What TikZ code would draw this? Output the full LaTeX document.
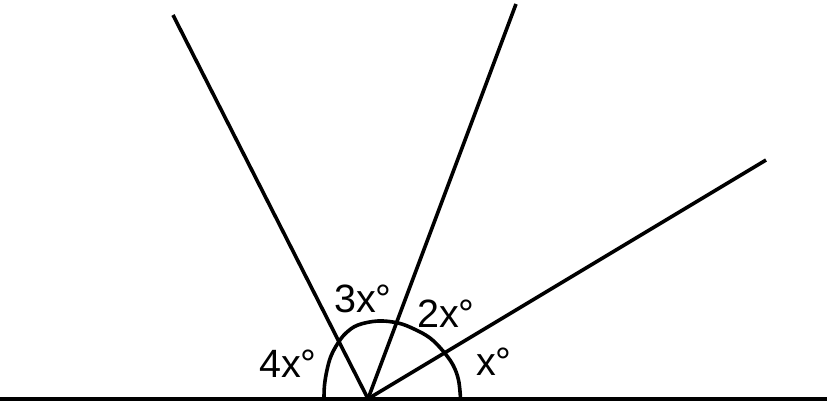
\documentclass[tikz,border=0pt]{standalone}
\usepackage{fontspec}
\setmainfont{Liberation Sans}
\begin{document}
\begin{tikzpicture}[x=1pt,y=-1pt,
  ray/.style={line width=3.6pt,black},
  base/.style={line width=4.6pt,black},
  anglearc/.style={line width=3.6pt,black},
  lbl/.style={anchor=base west,inner sep=0pt,font=\fontsize{39.5}{42}\selectfont}]
\useasboundingbox (0,0) rectangle (827,412);
\coordinate (O) at (368,398.8);
\coordinate (L) at (0,398.8);
\coordinate (R) at (827,398.8);
\coordinate (A) at (173,15);
\coordinate (B) at (516,4);
\coordinate (C) at (766,160);
\draw[base] (L) -- (R);
\draw[ray] (O) -- (A);
\draw[ray] (O) -- (B);
\draw[ray] (O) -- (C);
\draw[anglearc] plot[smooth,tension=0.6] coordinates {(324,398) (324.5,385) (327,370) (331,356) (338,343) (346,333) (358,325) (378,321) (398,323) (414,329) (430,338) (443,351) (453,365) (458.5,380) (460.5,398)};
\node[lbl] (l3) at (334,312) {3x°};
\node[lbl] (l2) at (417,327) {2x°};
\node[lbl] (l4) at (259,377) {4x°};
\node[lbl] (l1) at (476,375) {x°};
\end{tikzpicture}
\end{document}
